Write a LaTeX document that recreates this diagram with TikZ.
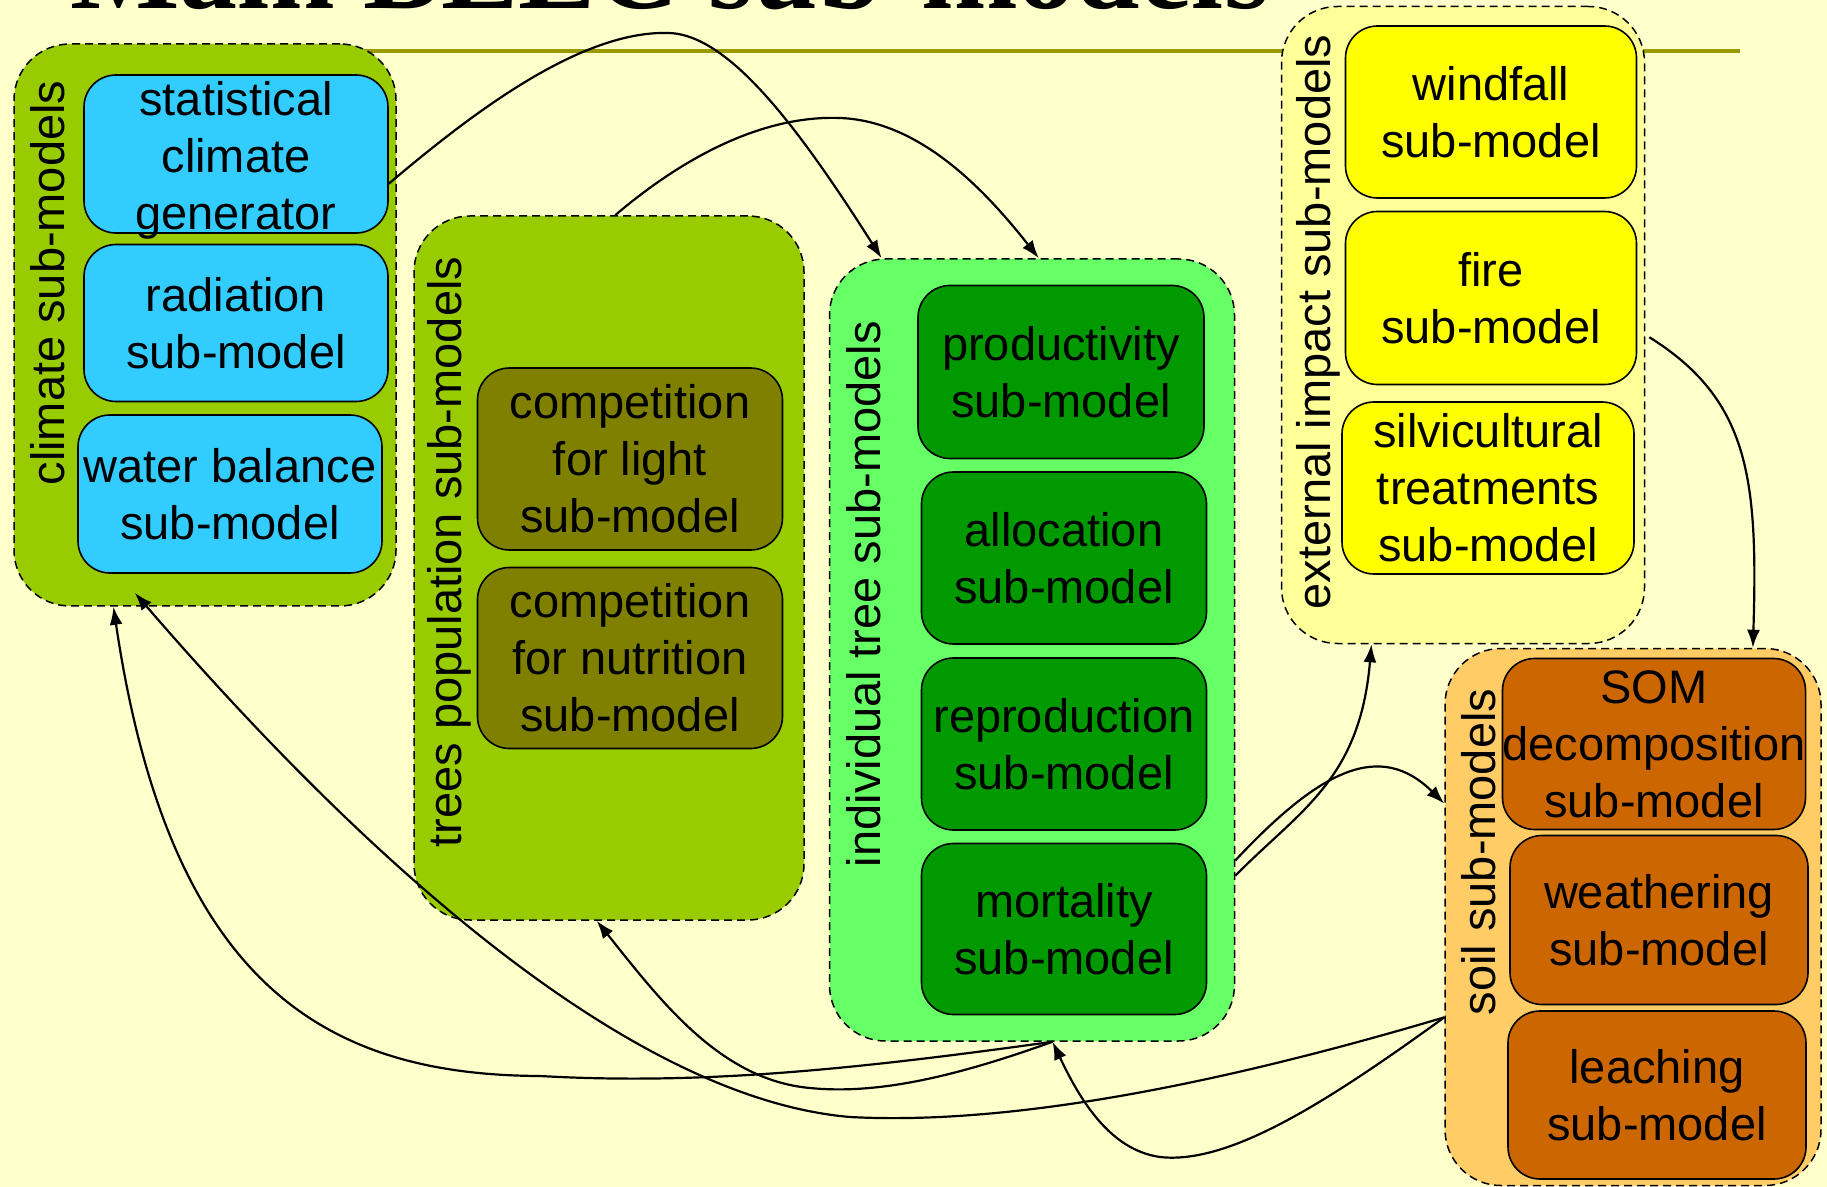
\documentclass[tikz,border=0pt]{standalone}
\usepackage{fontspec}
\setmainfont{Liberation Sans}
\newfontfamily\titlefont{Liberation Serif}
\usetikzlibrary{arrows.meta}
\definecolor{paper}{HTML}{FFFFCC}
\definecolor{rulec}{HTML}{999900}
\definecolor{grass}{HTML}{99CC00}
\definecolor{sky}{HTML}{33CCFF}
\definecolor{oliveb}{HTML}{808000}
\definecolor{treeg}{HTML}{66FF66}
\definecolor{forest}{HTML}{009900}
\definecolor{pale}{HTML}{FFFF99}
\definecolor{yell}{HTML}{FFFF00}
\definecolor{sand}{HTML}{FFCC66}
\definecolor{rust}{HTML}{CC6600}
\newcommand{\modfont}{\fontsize{23.5}{28.5}\selectfont}

\begin{document}
\begin{tikzpicture}[x=0.5pt,y=-0.5pt,>={Latex[length=9pt,width=6.5pt]},grp/.style={draw=black,line width=0.75pt,dash pattern=on 4pt off 2.5pt,rounded corners=28pt,inner sep=0pt},box/.style={draw=black,line width=0.8pt,rounded corners=16pt,inner sep=0pt,align=center,font=\modfont},lbl/.style={rotate=90,inner sep=0pt,font=\modfont},link/.style={->,line width=1.1pt}]
\useasboundingbox (0,0) rectangle (1827,1187);
\fill[paper] (0,0) rectangle (1827,1187);

\node[anchor=base west,inner sep=0pt,font=\titlefont\bfseries\fontsize{58}{60}\selectfont] (title) at (70,9) {Main BEEC sub-models};
\draw[rulec,line width=2pt] (60,51) -- (1740,51);

\node[grp,fill=grass,minimum width=191pt,minimum height=281pt] (climate) at (205,325) {};
\node[lbl] (climateL) at (48,283) {climate sub-models};
\node[box,fill=sky,minimum width=152pt,minimum height=79pt] (scg) at (236,154) {};
\node[align=center,font=\modfont,inner sep=0pt] (scgT) at (236,160) {statistical\\climate\\generator};
\node[box,fill=sky,minimum width=152pt,minimum height=78.5pt] (rad) at (236,323) {radiation\\sub-model};
\node[box,fill=sky,minimum width=152pt,minimum height=79pt] (water) at (230,494) {water balance\\sub-model};

\node[grp,fill=grass,minimum width=195pt,minimum height=352pt] (trees) at (609,568) {};
\node[lbl] (treesL) at (449,552) {trees population sub-models};
\node[box,fill=oliveb,minimum width=152.5pt,minimum height=91pt] (light) at (630,459) {competition\\for light\\sub-model};
\node[box,fill=oliveb,minimum width=152.5pt,minimum height=90.5pt] (nutr) at (630,658) {competition\\for nutrition\\sub-model};

\node[grp,fill=treeg,minimum width=202.5pt,minimum height=391pt] (indiv) at (1032,650) {};
\node[lbl] (indivL) at (864,594) {individual tree sub-models};
\node[box,fill=forest,minimum width=143pt,minimum height=86.5pt] (prod) at (1061,372) {productivity\\sub-model};
\node[box,fill=forest,minimum width=142.5pt,minimum height=86pt] (alloc) at (1064,558) {allocation\\sub-model};
\node[box,fill=forest,minimum width=142.5pt,minimum height=86pt] (repro) at (1064,744) {reproduction\\sub-model};
\node[box,fill=forest,minimum width=142.5pt,minimum height=85.5pt] (mort) at (1064,929) {mortality\\sub-model};

\node[grp,fill=pale,minimum width=181.5pt,minimum height=318.5pt] (ext) at (1463,325) {};
\node[lbl] (extL) at (1318,322) {external impact sub-models};
\node[box,fill=yell,minimum width=145.5pt,minimum height=86pt] (wind) at (1491,112) {windfall\\sub-model};
\node[box,fill=yell,minimum width=145.5pt,minimum height=86.5pt] (fire) at (1491,298) {fire\\sub-model};
\node[box,fill=yell,minimum width=146pt,minimum height=86pt] (silv) at (1488,488) {silvicultural\\treatments\\sub-model};

\node[grp,fill=sand,minimum width=188pt,minimum height=268.5pt] (soil) at (1633,917) {};
\node[lbl] (soilL) at (1479,852) {soil sub-models};
\node[box,fill=rust,minimum width=150pt,minimum height=85.5pt] (som) at (1654,744) {SOM\\decomposition\\sub-model};
\node[box,fill=rust,minimum width=149pt,minimum height=84.5pt] (weath) at (1659,920) {weathering\\sub-model};
\node[box,fill=rust,minimum width=149pt,minimum height=84pt] (leach) at (1657,1095) {leaching\\sub-model};

\draw[link] (scg.-11) .. controls (470,115) and (580,30) .. (669,33) .. controls (730,35) and (800,130) .. (indiv.111);
\draw[link] (trees.89) .. controls (680,160) and (760,115) .. (840,118) .. controls (920,121) and (985,190) .. (indiv.89);
\draw[link] ([xshift=6pt]fire.-15) .. controls (1750,400) and (1758,480) .. (soil.66);
\draw[link] (indiv.-48) .. controls (1300,810) and (1360,780) .. (ext.-106);
\draw[link] (indiv.-46) .. controls (1320,770) and (1380,740) .. (soil.149);
\draw[link] (soil.208) .. controls (1330,1100) and (1230,1165) .. (1160,1157) .. controls (1110,1150) and (1080,1100) .. (indiv.-87);
\draw[link] (indiv.-87) .. controls (850,1070) and (700,1085) .. (540,1076) .. controls (330,1075) and (170,990) .. (climate.-108);
\draw[link] (soil.208) .. controls (1200,1090) and (1000,1125) .. (850,1117) .. controls (650,1100) and (400,900) .. ([yshift=7pt]climate.-104);
\draw[link] (indiv.-87) .. controls (960,1075) and (880,1095) .. (810,1088) .. controls (720,1080) and (660,1000) .. (trees.-92);
\end{tikzpicture}
\end{document}
